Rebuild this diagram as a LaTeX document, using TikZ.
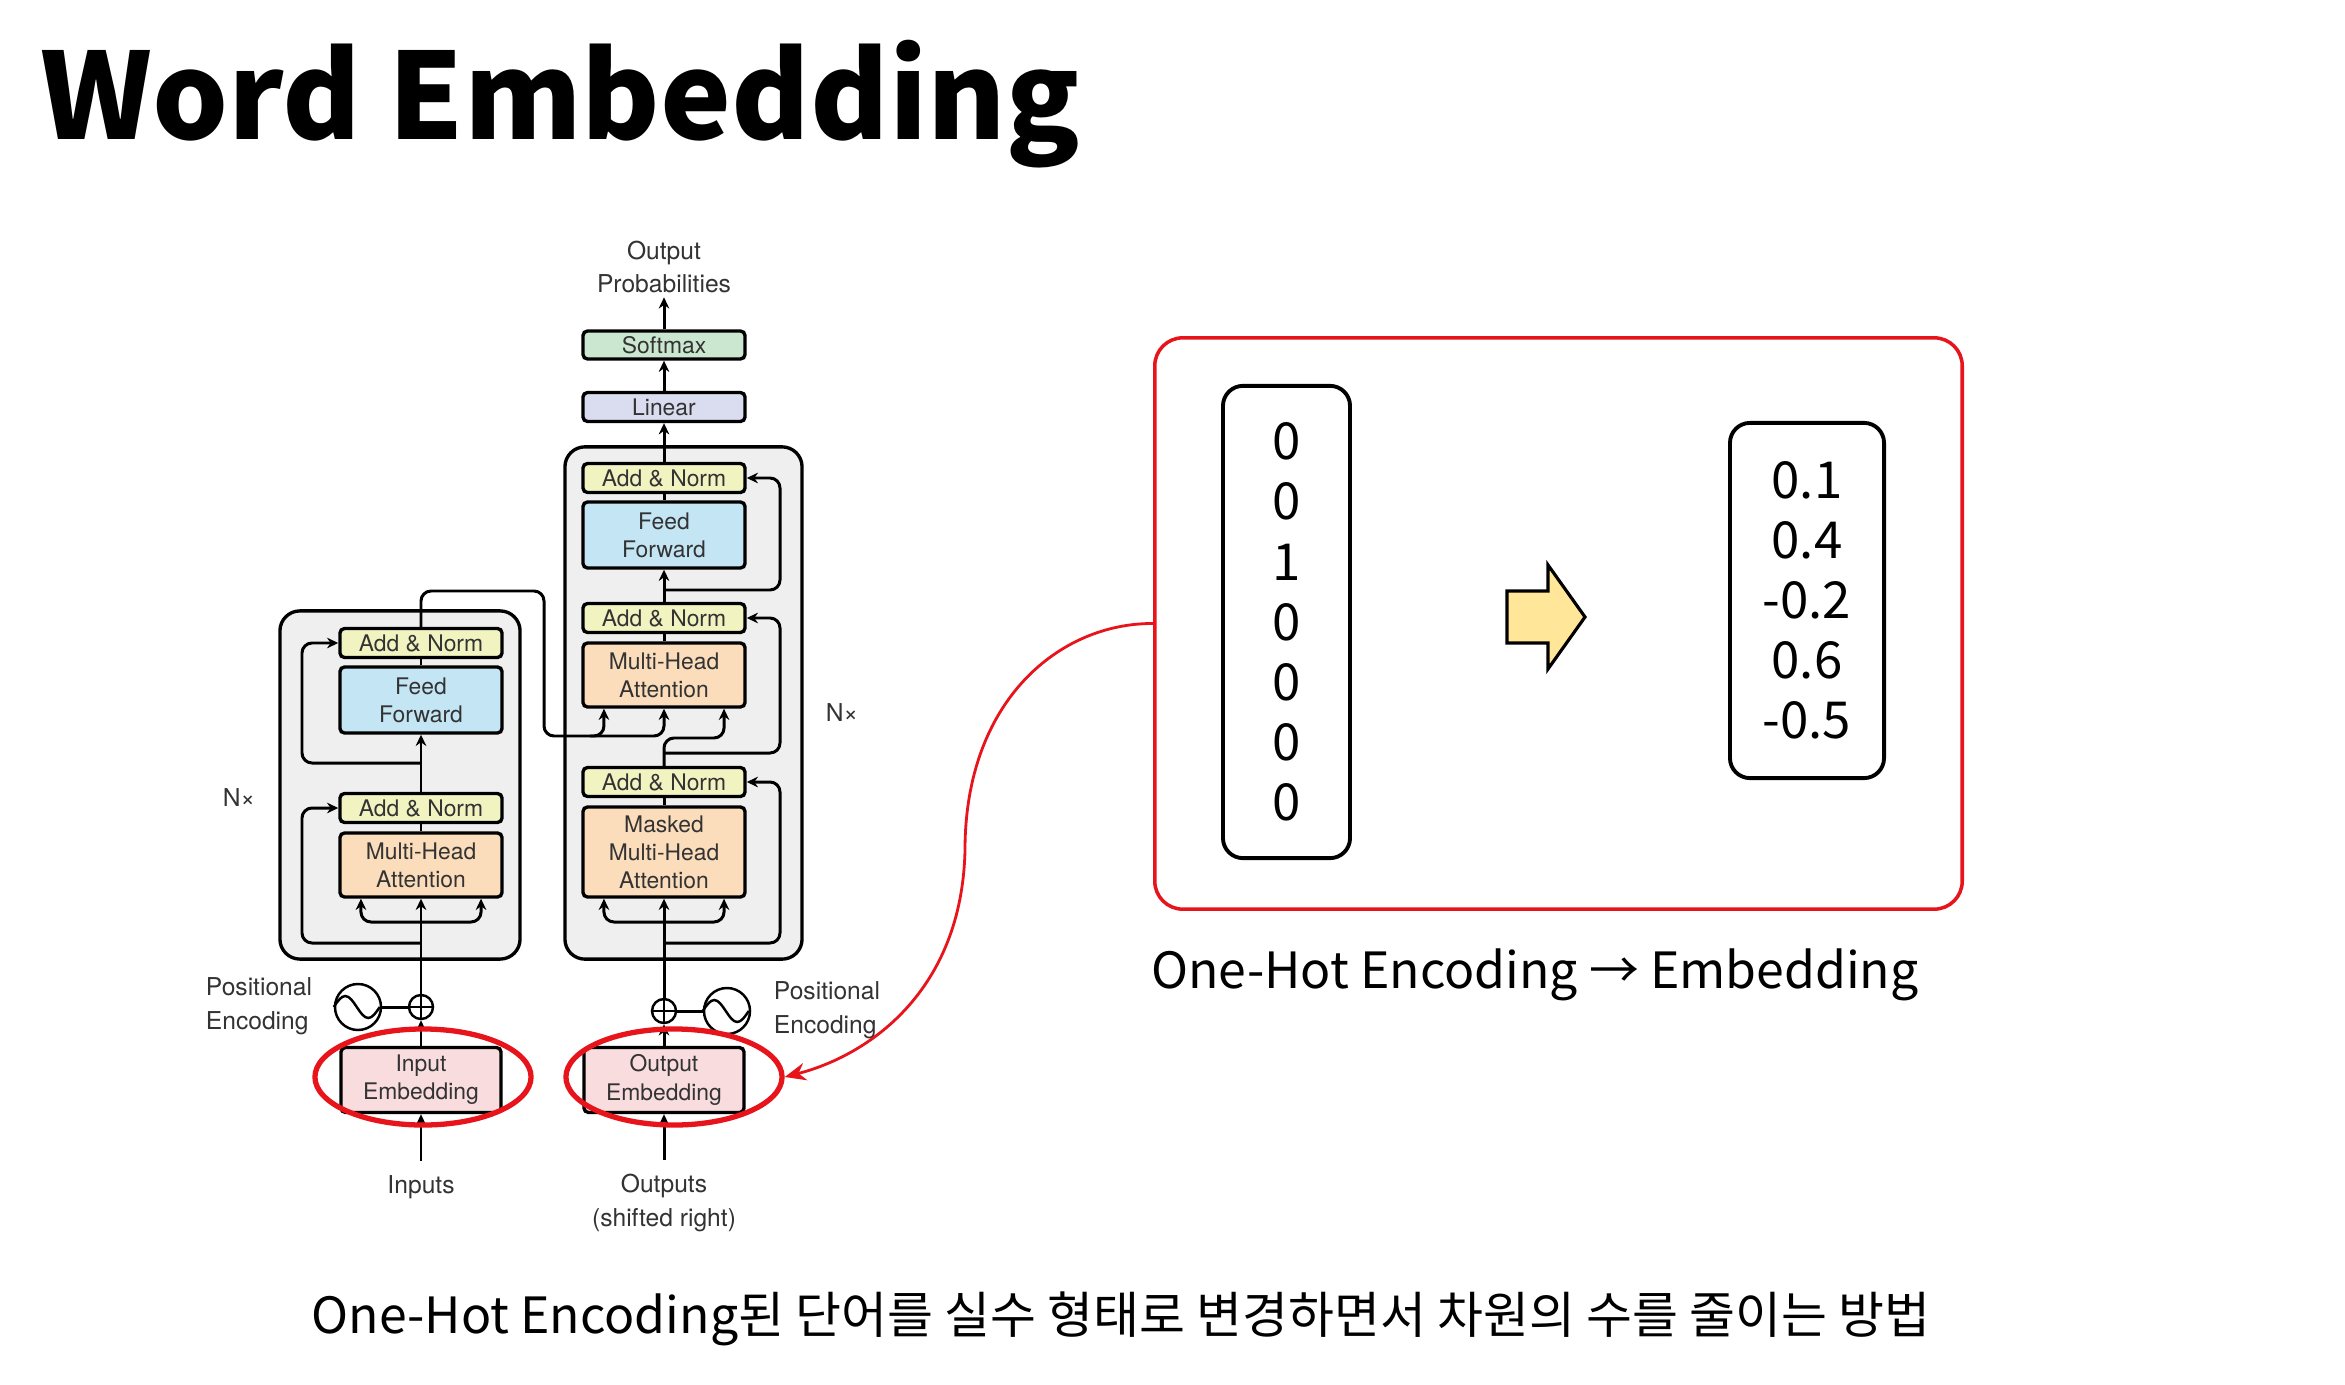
\documentclass[tikz,border=0pt]{standalone}
\usepackage{fontspec}
\setmainfont{Noto Sans CJK KR}
\newfontfamily\helv{TeX Gyre Heros}
\usetikzlibrary{arrows.meta,shapes.geometric}

\definecolor{addc}{HTML}{F1F4C1}
\definecolor{ffc}{HTML}{C3E5F4}
\definecolor{mhac}{HTML}{FBDDBB}
\definecolor{smc}{HTML}{CBE7CF}
\definecolor{linc}{HTML}{DADCF0}
\definecolor{embc}{HTML}{F8DCDE}
\definecolor{stackc}{HTML}{EFEFEF}
\definecolor{txtc}{HTML}{333333}
\definecolor{hlred}{HTML}{E8141B}
\definecolor{arrowy}{HTML}{FFE699}

\begin{document}
\begin{tikzpicture}[x=0.01cm,y=-0.01cm,
  tf/.style={font=\helv\fontsize{6.5}{8}\selectfont, text=txtc},
  lbl/.style={font=\helv\fontsize{7}{9.5}\selectfont, text=txtc, align=center, inner sep=1pt},
  blk/.style={tf, draw=black, line width=0.95pt, rounded corners=1.3pt,
    minimum width=1.62cm, align=center, inner sep=0pt},
  addn/.style={blk, fill=addc, minimum height=0.29cm},
  ffn/.style={blk, fill=ffc},
  mha/.style={blk, fill=mhac},
  smx/.style={blk, fill=smc, minimum height=0.28cm},
  lin/.style={blk, fill=linc, minimum height=0.29cm},
  emb/.style={blk, fill=embc, minimum width=1.60cm, minimum height=0.65cm},
  stack/.style={draw=black, line width=0.95pt, fill=stackc, rounded corners=0.2cm},
  plusc/.style={circle, draw=black, line width=0.7pt, fill=white, minimum size=0.24cm, inner sep=0pt},
  sinec/.style={circle, draw=black, line width=0.7pt, fill=white, minimum size=0.46cm, inner sep=0pt},
  wire/.style={line width=0.85pt, black},
  arr/.style={wire, -{Stealth[length=3.2pt,width=3pt]}},
  rc/.style={rounded corners=0.1cm},
  ring/.style={ellipse, draw=hlred, line width=1.5pt, minimum width=2.16cm,
    minimum height=0.96cm, inner sep=0pt},
  vecbox/.style={draw=black, line width=1.1pt, rounded corners=0.2cm, align=center,
    font=\fontsize{14.5}{17.1}\selectfont, inner sep=0pt}
]
\useasboundingbox (0,0) rectangle (2345,1385);
\fill[white] (0,0) rectangle (2345,1385);

% heading
\node[anchor=base west, inner sep=0pt, font=\fontsize{34}{36}\selectfont\bfseries] (title) at (40,140) {Word Embedding};

% encoder and decoder stacks
\node[stack, minimum width=2.40cm, minimum height=3.48cm] (encstack) at (400,785) {};
\node[stack, minimum width=2.37cm, minimum height=5.12cm] (decstack) at (683.5,703) {};

% encoder layer
\node[addn] (eA2) at (421,643) {Add \& Norm};
\node[ffn, minimum height=0.66cm] (eFF) at (421,700) {Feed\\Forward};
\node[addn] (eA1) at (421,808) {Add \& Norm};
\node[mha, minimum height=0.64cm] (eMHA) at (421,865) {Multi-Head\\Attention};

% decoder layer and output head
\node[smx] (soft) at (664,345) {Softmax};
\node[lin] (lin) at (664,407) {Linear};
\node[addn] (dA3) at (664,478) {Add \& Norm};
\node[ffn, minimum height=0.66cm] (dFF) at (664,535) {Feed\\Forward};
\node[addn] (dA2) at (664,618) {Add \& Norm};
\node[mha, minimum height=0.64cm] (dMHA) at (664,675) {Multi-Head\\Attention};
\node[addn] (dA1) at (664,782) {Add \& Norm};
\node[mha, minimum height=0.90cm] (dMM) at (664,852) {Masked\\Multi-Head\\Attention};

% embeddings
\node[emb] (inemb) at (421,1080) {Input\\Embedding};
\node[emb] (outemb) at (664,1080) {Output\\Embedding};

% labels
\node[lbl] (outprob) at (664,267) {Output\\Probabilities};
\node[lbl] (inputs) at (421,1187) {Inputs};
\node[lbl] (outputs) at (664,1203) {Outputs\\(shifted right)};
\node[lbl] (eNx) at (239,798) {N×};
\node[lbl] (dNx) at (842,713) {N×};
\node[lbl, align=left] (epos) at (259,1006) {Positional\\Encoding};
\node[lbl, align=left] (dpos) at (827,1010) {Positional\\Encoding};

% positional encoding adders
\node[plusc] (eplus) at (421,1007) {};
\node[sinec] (esin) at (358,1007) {};
\node[plusc] (dplus) at (664,1011) {};
\node[sinec] (dsin) at (727,1011) {};
\draw[line width=0.6pt] (eplus.north) -- (eplus.south) (eplus.west) -- (eplus.east);
\draw[line width=0.6pt] (dplus.north) -- (dplus.south) (dplus.west) -- (dplus.east);
\draw[line width=0.7pt] (esin.west) sin ++(11.5,-11) cos ++(11.5,11) sin ++(11.5,11) cos ++(11.5,-11);
\draw[line width=0.7pt] (dsin.west) sin ++(11.5,-11) cos ++(11.5,11) sin ++(11.5,11) cos ++(11.5,-11);
\draw[wire] (esin) -- (eplus);
\draw[wire] (dplus) -- (dsin);

% split points
\coordinate (eS) at (421,922);
\coordinate (eR1) at (421,943);
\coordinate (eR2) at (421,763);
\coordinate (encK) at (590,736);
\coordinate (dS) at (664,922);
\coordinate (dR1) at (664,943);
\coordinate (dR2) at (664,753);
\coordinate (dR3) at (664,590);

% encoder wiring
\draw[arr] ([yshift=0.1cm]inputs.north) -- (inemb.south);
\draw[arr] (inemb.north) -- (eplus.south);
\draw[arr] (eplus.north) -- (eMHA.south);
\draw[arr, rc] (eS) -| ([xshift=-0.6cm]eMHA.south);
\draw[arr, rc] (eS) -| ([xshift=0.6cm]eMHA.south);
\draw[arr, rc] (eR1) -| (302,808) -- (eA1.west);
\draw[wire] (eMHA) -- (eA1);
\draw[arr] (eA1) -- (eFF);
\draw[arr, rc] (eR2) -| (302,643) -- (eA2.west);
\draw[wire] (eFF) -- (eA2);
\draw[arr, rc] (eA2.north) |- (544,591) -- (544,736) -| ([xshift=-0.6cm]dMHA.south);
\draw[arr, rc] (encK) -| (dMHA.south);

% decoder wiring
\draw[arr] ([yshift=0.1cm]outputs.north) -- (outemb.south);
\draw[arr] (outemb.north) -- (dplus.south);
\draw[arr] (dplus.north) -- (dMM.south);
\draw[arr, rc] (dS) -| ([xshift=-0.6cm]dMM.south);
\draw[arr, rc] (dS) -| ([xshift=0.6cm]dMM.south);
\draw[arr, rc] (dR1) -| (780,782) -- (dA1.east);
\draw[wire] (dMM) -- (dA1);
\draw[arr, rc] (dA1.north) -- (664,738) -| ([xshift=0.6cm]dMHA.south);
\draw[arr, rc] (dR2) -| (780,618) -- (dA2.east);
\draw[wire] (dMHA) -- (dA2);
\draw[arr] (dA2) -- (dFF);
\draw[arr, rc] (dR3) -| (780,478) -- (dA3.east);
\draw[wire] (dFF) -- (dA3);
\draw[arr] (dA3) -- (lin);
\draw[arr] (lin) -- (soft);
\draw[arr] (soft) -- (outprob);

% highlighted embeddings
\node[ring] (eRing) at (423,1077) {};
\node[ring] (dRing) at (674,1077) {};

% one-hot to embedding panel
\node[draw=hlred, line width=1pt, rounded corners=0.28cm, minimum width=8.07cm,
  minimum height=5.71cm] (rbox) at (1558.5,623.5) {};
\node[vecbox, minimum width=1.27cm, minimum height=4.72cm] (onehot) at (1286.5,622)
  {0\\0\\1\\0\\0\\0\\0};
\node[vecbox, minimum width=1.54cm, minimum height=3.55cm] (embv) at (1807,600.5)
  {0.1\\0.4\\-0.2\\0.6\\-0.5};
\filldraw[fill=arrowy, draw=black, line width=0.9pt, line join=miter]
  (1507,591) -- (1548,591) -- (1548,565) -- (1585,617) -- (1548,669) -- (1548,643)
  -- (1507,643) -- cycle;

\draw[hlred, line width=0.8pt, -{Stealth[length=6pt,width=5pt]}]
  (rbox.west) .. controls (1060,623) and (965,700) .. (965,850)
  .. controls (962,990) and (870,1055) .. (dRing.east);

% captions
\node[font=\fontsize{14.2}{17}\selectfont] (cap) at (1535,975) {One-Hot Encoding → Embedding};
\node[font=\fontsize{14.2}{17}\selectfont] (desc) at (1121,1319)
  {One-Hot Encoding된 단어를 실수 형태로 변경하면서 차원의 수를 줄이는 방법};
\end{tikzpicture}
\end{document}
